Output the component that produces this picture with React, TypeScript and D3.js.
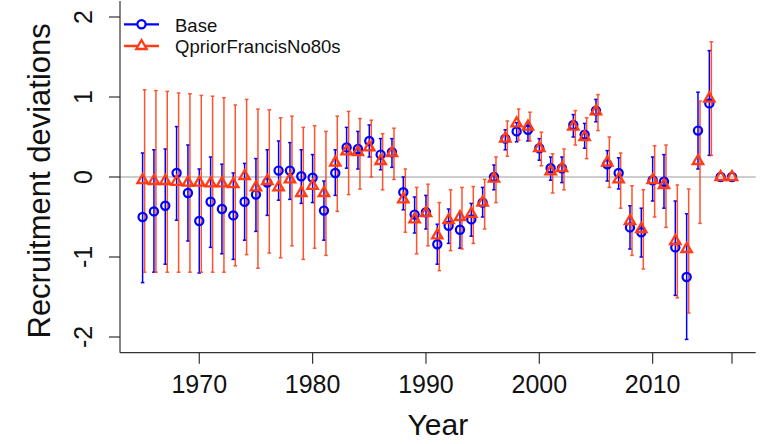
import React from "react";
import * as d3 from "d3";

const years: number[] = d3.range(1965, 2018);

const baseEst: number[] = [
  -0.50, -0.43, -0.36, 0.05, -0.20, -0.55, -0.31, -0.40, -0.48, -0.31,
  -0.22, -0.07, 0.08, 0.08, 0.01, -0.01, -0.42, 0.05, 0.37, 0.35,
  0.45, 0.28, 0.31, -0.19, -0.47, -0.44, -0.84, -0.61, -0.66, -0.53,
  -0.32, 0.00, 0.48, 0.57, 0.59, 0.36, 0.11, 0.11, 0.65, 0.53,
  0.83, 0.16, 0.05, -0.63, -0.69, -0.04, -0.06, -0.88, -1.25, 0.58,
  0.92, 0.0, 0.0,
];
const baseLo: (number | null)[] = [
  -1.32, -1.19, -1.09, -0.54, -0.80, -1.20, -0.88, -0.96, -1.03, -0.79,
  -0.68, -0.48, -0.29, -0.28, -0.33, -0.32, -0.79, -0.23, 0.11, 0.10,
  0.25, 0.09, 0.12, -0.41, -0.70, -0.65, -1.09, -0.83, -0.89, -0.74,
  -0.50, -0.16, 0.34, 0.44, 0.45, 0.21, -0.04, -0.07, 0.50, 0.36,
  0.69, -0.05, -0.15, -0.90, -1.00, -0.30, -0.39, -1.48, -2.03, 0.10,
  0.27, null, null,
];
const baseHi: (number | null)[] = [
  0.30, 0.34, 0.35, 0.63, 0.40, 0.10, 0.25, 0.16, 0.05, 0.17,
  0.23, 0.34, 0.45, 0.43, 0.34, 0.28, -0.05, 0.34, 0.62, 0.57,
  0.65, 0.48, 0.48, 0.00, -0.25, -0.23, -0.59, -0.40, -0.45, -0.33,
  -0.13, 0.15, 0.59, 0.68, 0.68, 0.48, 0.25, 0.25, 0.78, 0.67,
  0.97, 0.33, 0.24, -0.36, -0.39, 0.25, 0.28, -0.30, -0.46, 1.06,
  1.58, null, null,
];

const altEst: number[] = [
  -0.04, -0.05, -0.05, -0.06, -0.07, -0.07, -0.08, -0.08, -0.09, 0.01,
  -0.13, -0.05, -0.13, -0.03, -0.20, -0.11, -0.20, 0.18, 0.32, 0.31,
  0.37, 0.20, 0.30, -0.28, -0.53, -0.45, -0.73, -0.54, -0.50, -0.46,
  -0.32, -0.02, 0.48, 0.67, 0.63, 0.36, 0.07, 0.11, 0.63, 0.50,
  0.82, 0.18, -0.03, -0.55, -0.65, -0.04, -0.10, -0.80, -0.90, 0.20,
  0.98, 0.0, 0.0,
];
const altLo: (number | null)[] = [
  -1.19, -1.19, -1.19, -1.19, -1.19, -1.19, -1.19, -1.19, -1.11, -0.97,
  -1.14, -0.95, -1.01, -0.86, -1.03, -0.89, -0.98, -0.43, -0.22, -0.15,
  0.00, -0.16, -0.03, -0.69, -0.96, -0.86, -1.17, -0.92, -0.90, -0.83,
  -0.65, -0.32, 0.26, 0.46, 0.45, 0.14, -0.20, -0.16, 0.40, 0.23,
  0.58, -0.13, -0.39, -0.98, -1.15, -0.50, -0.63, -1.51, -1.70, -0.58,
  0.27, null, null,
];
const altHi: (number | null)[] = [
  1.09, 1.08, 1.07, 1.05, 1.04, 1.02, 1.01, 0.99, 0.90, 0.97,
  0.85, 0.84, 0.74, 0.76, 0.62, 0.64, 0.57, 0.76, 0.82, 0.73,
  0.71, 0.54, 0.61, 0.10, -0.13, -0.09, -0.32, -0.16, -0.13, -0.12,
  -0.03, 0.25, 0.70, 0.85, 0.81, 0.56, 0.29, 0.35, 0.83, 0.74,
  1.03, 0.50, 0.30, -0.11, -0.16, 0.39, 0.40, -0.10, -0.15, 0.95,
  1.69, null, null,
];

const xTickYears: number[] = [1970, 1980, 1990, 2000, 2010, 2017];
const xTickLabels: string[] = ["1970", "1980", "1990", "2000", "2010", ""];
const yTicks: number[] = [-2, -1, 0, 1, 2];
const seriesNames: string[] = ["Base", "QpriorFrancisNo80s"];

const BLUE = "#0000FF";
const RED = "#FF3C14";
const FONT = "'Liberation Sans', Arial, Helvetica, sans-serif";

const W = 767;
const H = 444;
const left = 120;
const right = 755.7;
const bottom = 352.7;
const top = 1;

const x = d3.scaleLinear().domain([1965, 2017]).range([142.6, 732]);
const y = d3.scaleLinear().domain([-2, 2]).range([337, 17]);

function tri(cx: number, cy: number, r: number): string {
  const hw = r * 0.866;
  return `M${cx},${cy - r}L${cx + hw},${cy + r / 2}L${cx - hw},${cy + r / 2}Z`;
}

function ErrBars({ lo, hi, color, dx, width }: { lo: (number | null)[]; hi: (number | null)[]; color: string; dx: number; width: number }) {
  return (
    <g stroke={color} strokeWidth={width} fill="none">
      {years.map((yr, i) => {
        const l = lo[i];
        const h = hi[i];
        if (l === null || h === null) return null;
        const cx = x(yr) + dx;
        const cap = 1.8;
        return (
          <g key={yr}>
            <line x1={cx} x2={cx} y1={y(l)} y2={y(h)} />
            <line x1={cx - cap} x2={cx + cap} y1={y(l)} y2={y(l)} />
            <line x1={cx - cap} x2={cx + cap} y1={y(h)} y2={y(h)} />
          </g>
        );
      })}
    </g>
  );
}

export default function App() {
  return (
    <svg
      width={W}
      height={H}
      viewBox={`0 0 ${W} ${H}`}
      style={{ position: "absolute", left: 0, top: 0, display: "block", background: "#fff" }}
    >
      <rect x={0} y={0} width={W} height={H} fill="#fff" />
      {/* zero line */}
      <line x1={left} x2={right} y1={y(0)} y2={y(0)} stroke="#bdbdbd" strokeWidth={1.6} />

      {/* error bars */}
      <ErrBars lo={baseLo} hi={baseHi} color={BLUE} dx={0} width={1.5} />
      <g opacity={0.88}>
        <ErrBars lo={altLo} hi={altHi} color={RED} dx={2} width={1.5} />
      </g>

      {/* base points */}
      <g stroke={BLUE} strokeWidth={2.2} fill="none">
        {years.map((yr, i) => (
          <circle key={yr} cx={x(yr)} cy={y(baseEst[i])} r={4.1} />
        ))}
      </g>
      {/* alt points */}
      <g stroke={RED} strokeWidth={2.3} fill="none" strokeLinejoin="miter">
        {years.map((yr, i) => (
          <path key={yr} d={tri(x(yr), y(altEst[i]), 6)} />
        ))}
      </g>

      {/* axes */}
      <line x1={left} x2={left} y1={top} y2={bottom} stroke="#333" strokeWidth={1.2} />
      <line x1={left} x2={right} y1={bottom} y2={bottom} stroke="#333" strokeWidth={1.2} />
      {yTicks.map((t) => (
        <g key={t}>
          <line x1={left - 11} x2={left} y1={y(t)} y2={y(t)} stroke="#333" strokeWidth={1.2} />
          <text
            transform={`translate(92,${y(t)}) rotate(-90)`}
            textAnchor="middle"
            fontFamily={FONT}
            fontSize={25}
            fill="#111"
          >
            {t}
          </text>
        </g>
      ))}
      {xTickYears.map((t, i) => (
        <g key={t}>
          <line x1={x(t)} x2={x(t)} y1={bottom} y2={bottom + 11} stroke="#333" strokeWidth={1.2} />
          <text x={x(t)} y={393} textAnchor="middle" fontFamily={FONT} fontSize={25} fill="#111">
            {xTickLabels[i]}
          </text>
        </g>
      ))}

      <text x={(left + right) / 2} y={435} textAnchor="middle" fontFamily={FONT} fontSize={30} fill="#111">
        Year
      </text>
      <text
        transform={`translate(50,${(top + bottom) / 2 + 4}) rotate(-90)`}
        textAnchor="middle"
        fontFamily={FONT}
        fontSize={31}
        fill="#111"
      >
        Recruitment deviations
      </text>

      {/* legend */}
      <g>
        <line x1={124} x2={159} y1={24.3} y2={24.3} stroke={BLUE} strokeWidth={2.3} />
        <circle cx={141.5} cy={24.3} r={4.1} stroke={BLUE} strokeWidth={2.2} fill="#fff" />
        <text x={175} y={31.7} fontFamily={FONT} fontSize={18.5} fill="#111">
          {seriesNames[0]}
        </text>
        <line x1={124} x2={159} y1={46} y2={46} stroke={RED} strokeWidth={2.3} />
        <path d={tri(141.5, 46, 6)} stroke={RED} strokeWidth={2.3} fill="#fff" />
        <text x={175} y={53.4} fontFamily={FONT} fontSize={18.5} fill="#111">
          {seriesNames[1]}
        </text>
      </g>
    </svg>
  );
}
